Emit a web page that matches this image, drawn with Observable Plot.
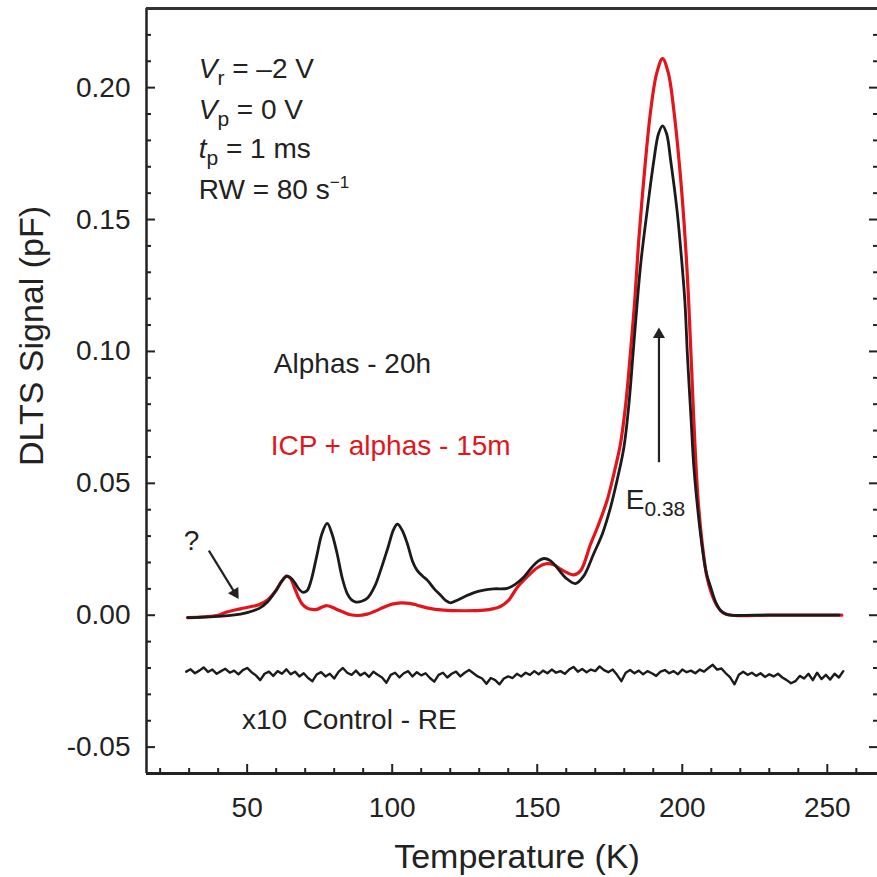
<!DOCTYPE html>
<html><head><meta charset="utf-8">
<script src="https://cdn.jsdelivr.net/npm/d3@7"></script>
<script src="https://cdn.jsdelivr.net/npm/@observablehq/plot@0.6"></script>
<style>
html,body{margin:0;padding:0;background:#fff;overflow:hidden}
#chart{width:877px;height:877px}
</style></head><body><div id="chart"></div>
<script>
// ---- data ----
const tempAlphas = [29.5,35,40,45,50,54,57,60,62,63.6,65,66.5,68,69.3,70.7,72,74,75.8,77.6,79.2,81,82.8,84.5,86,87.5,89.5,91.5,94,96,98.5,100.5,101.8,103.3,105.2,107,108.6,110.5,112.1,114.5,116.7,118.5,120.1,122,124.7,128,131.6,135,139.7,142.5,145.4,148,150.3,152.3,154.5,157,160,163.2,166,169.5,172.5,175.3,177.7,179.9,181.6,183.1,184.5,185.8,187.9,190.2,191.8,193.2,194.6,196.0,198.2,199.8,200.9,201.8,203,204,205.3,206.6,208.2,209.8,211.5,213.2,215,216.7,225,240,254];
const sigAlphas  = [-0.0009,-0.0007,-0.0004,0.0,0.001,0.0025,0.005,0.0095,0.013,0.0148,0.0142,0.0122,0.0097,0.0087,0.0094,0.013,0.0225,0.031,0.0348,0.031,0.0234,0.014,0.0082,0.0058,0.005,0.0053,0.0065,0.011,0.017,0.0255,0.0325,0.0345,0.0325,0.0272,0.0205,0.017,0.0148,0.0133,0.01,0.0076,0.0055,0.0047,0.0055,0.0069,0.0085,0.0095,0.01,0.0102,0.0118,0.0145,0.018,0.0205,0.0215,0.0207,0.0178,0.014,0.012,0.0148,0.0234,0.031,0.041,0.052,0.0638,0.08,0.1,0.119,0.1345,0.1534,0.1724,0.1825,0.1855,0.1825,0.1724,0.1534,0.1345,0.119,0.098,0.075,0.056,0.0405,0.028,0.0165,0.0106,0.005,0.0018,0.0005,0.0,0.0,0.0,0.0];

const tempICP = [29.5,35,40,43,45.4,48,51.1,54,57,60,62,63.6,65,66.3,67.5,69,70.7,72.5,74.1,76,77.6,79.3,81,83.5,85.6,88,91.4,94,97.1,100,102.9,106,108.6,112,117.8,125,131.6,135,137.3,140,143.1,146.5,150,153,155.5,158,160.5,162.6,165,168.4,171,174.1,176.5,178.7,180.5,182.2,183.6,184.9,186.8,189.1,191.2,193.2,195.2,197.1,199.4,201.1,202.2,203.2,204.3,205.5,207,208.5,210,212,214,217,230,245,255];
const sigICP  = [-0.0009,-0.0006,0.0,0.0012,0.0019,0.0025,0.0032,0.004,0.0058,0.0095,0.013,0.0148,0.0138,0.0105,0.0072,0.0042,0.0027,0.0022,0.0022,0.0032,0.0036,0.003,0.0022,0.001,0.0002,-0.0001,0.0004,0.0015,0.003,0.0042,0.0047,0.0045,0.0038,0.0028,0.0019,0.0017,0.0019,0.0025,0.0033,0.0055,0.0105,0.0145,0.018,0.0195,0.0192,0.0175,0.016,0.0153,0.017,0.027,0.034,0.0436,0.054,0.065,0.08,0.1004,0.119,0.1408,0.166,0.1913,0.2055,0.211,0.2055,0.1913,0.166,0.1408,0.119,0.094,0.066,0.043,0.026,0.0145,0.0085,0.0035,0.001,0.0,0.0,0.0,0.0];

const tempControl = [29,30.5,32,33.5,35,36.5,38,39.5,41,42.5,44,45.5,47,48.5,50,51.5,53,54.5,56,57.5,59,60.5,62,63.5,65,66.5,68,69.5,71,72.5,74,75.5,77,78.5,80,81.5,83,84.5,86,87.5,89,90.5,92,93.5,95,96.5,98,99.5,101,102.5,104,105.5,107,108.5,110,111.5,113,114.5,116,117.5,119,120.5,122,123.5,125,126.5,128,129.5,131,132.5,134,135.5,137,138.5,140,141.5,143,144.5,146,147.5,149,150.5,152,153.5,155,156.5,158,159.5,161,162.5,164,165.5,167,168.5,170,171.5,173,174.5,176,177.5,179,180.5,182,183.5,185,186.5,188,189.5,191,192.5,194,195.5,197,198.5,200,201.5,203,204.5,206,207.5,209,210.5,212,213.5,215,216.5,218,219.5,221,222.5,224,225.5,227,228.5,230,231.5,233,234.5,236,237.5,239,240.5,242,243.5,245,246.5,248,249.5,251,252.5,254,255.5];
const sigControl  = [-0.0214,-0.0205,-0.0220,-0.0210,-0.0198,-0.0215,-0.0206,-0.0222,-0.0212,-0.0203,-0.0218,-0.0210,-0.0224,-0.0208,-0.0200,-0.0216,-0.0228,-0.0246,-0.0222,-0.0214,-0.0230,-0.0212,-0.0222,-0.0205,-0.0224,-0.0214,-0.0232,-0.0220,-0.0238,-0.0250,-0.0224,-0.0216,-0.0232,-0.0222,-0.0240,-0.0215,-0.0200,-0.0218,-0.0226,-0.0210,-0.0228,-0.0218,-0.0234,-0.0214,-0.0226,-0.0236,-0.0256,-0.0226,-0.0218,-0.0236,-0.0220,-0.0212,-0.0232,-0.0216,-0.0228,-0.0220,-0.0238,-0.0252,-0.0226,-0.0218,-0.0236,-0.0222,-0.0214,-0.0232,-0.0218,-0.0208,-0.0220,-0.0232,-0.0240,-0.0260,-0.0238,-0.0246,-0.0262,-0.0240,-0.0232,-0.0238,-0.0222,-0.0232,-0.0218,-0.0226,-0.0212,-0.0224,-0.0210,-0.0220,-0.0206,-0.0218,-0.0212,-0.0222,-0.0206,-0.0196,-0.0214,-0.0204,-0.0216,-0.0206,-0.0212,-0.0194,-0.0208,-0.0216,-0.0206,-0.0226,-0.0250,-0.0218,-0.0208,-0.0220,-0.0210,-0.0224,-0.0212,-0.0220,-0.0230,-0.0214,-0.0208,-0.0220,-0.0212,-0.0224,-0.0206,-0.0216,-0.0210,-0.0220,-0.0206,-0.0214,-0.0200,-0.0188,-0.0206,-0.0202,-0.0220,-0.0236,-0.0262,-0.0226,-0.0214,-0.0226,-0.0218,-0.0230,-0.0220,-0.0234,-0.0224,-0.0232,-0.0222,-0.0236,-0.0246,-0.0258,-0.0250,-0.0230,-0.0240,-0.0222,-0.0246,-0.0218,-0.0242,-0.0226,-0.0244,-0.0222,-0.0236,-0.0212];

const xMajorTicks = [50,100,150,200,250];
const xMinorTicks = [20,30,40,60,70,80,90,110,120,130,140,160,170,180,190,210,220,230,240,260];
const yMajorTicks = [-0.05,0,0.05,0.10,0.15,0.20];
const yMinorTicks = [-0.04,-0.03,-0.02,-0.01,0.01,0.02,0.03,0.04,0.06,0.07,0.08,0.09,0.11,0.12,0.13,0.14,0.16,0.17,0.18,0.19,0.21,0.22];

const xTitle = "Temperature (K)";
const yTitle = "DLTS Signal (pF)";

// annotations (text in data coordinates)
const annotations = [
  {t:33.3, v:0.2071, text:"Vr = –2 V", color:"#222"},
  {t:33.3, v:0.1916, text:"Vp = 0 V", color:"#222"},
  {t:33.3, v:0.1768, text:"tp = 1 ms", color:"#222"},
  {t:33.3, v:0.1611, text:"RW = 80 s-1", color:"#222"},
  {t:59.2, v:0.0953, text:"Alphas - 20h", color:"#222"},
  {t:58.1, v:0.0643, text:"ICP + alphas - 15m", color:"#e3151b"},
  {t:48.2, v:-0.0399, text:"x10\u00a0 Control - RE", color:"#222"},
  {t:180.5, v:0.0435, text:"E0.38", color:"#222"}
];
const qMark = [{t:30.8, v:0.028, text:"?"}];
const arrows = [
  {x1:36.8, y1:0.0245, x2:45.8, y2:0.0084, rot:148},
  {x1:191.96, y1:0.058, x2:191.96, y2:0.1064, rot:0}
];

const rich = {
  "Vr = –2 V": [["V","i"],["r","sub"],[" = –2 V",""]],
  "Vp = 0 V": [["V","i"],["p","sub"],[" = 0 V",""]],
  "tp = 1 ms": [["t","i"],["p","sub"],[" = 1 ms",""]],
  "RW = 80 s-1": [["RW = 80 s",""],["−1","sup"]],
  "E0.38": [["E",""],["0.38","sub"]]
};

const black = "#1b1b1b", red = "#e3151b", ink = "#222";
const alphas = tempAlphas.map((t,i)=>({t, v:sigAlphas[i]}));
const icp = tempICP.map((t,i)=>({t, v:sigICP[i]}));
const control = tempControl.map((t,i)=>({t, v:sigControl[i]}));

const plot = Plot.plot({
  width: 877, height: 877,
  marginLeft: 146, marginRight: 0, marginTop: 8, marginBottom: 104,
  style: {fontFamily: "'Liberation Sans', Arial, Helvetica, sans-serif", fontSize: "28px", color: ink, background: "#fff", overflow: "visible"},
  x: {domain: [15.3, 267.3]},
  y: {domain: [-0.06, 0.23]},
  marks: [
    Plot.axisX({ticks: xMajorTicks, tickSize: -9, tickPadding: 33, tickFormat: d => String(d), label: null, strokeWidth: 2, fontSize: 28}),
    Plot.axisX({ticks: xMinorTicks, tickSize: -5, tickFormat: () => "", label: null, strokeWidth: 2}),
    Plot.axisY({ticks: yMajorTicks, tickSize: -9, tickPadding: 25, tickFormat: d => d.toFixed(2), label: null, strokeWidth: 2, fontSize: 28}),
    Plot.axisY({ticks: yMinorTicks, tickSize: -5, tickFormat: () => "", label: null, strokeWidth: 2}),
    Plot.axisY({anchor: "right", ticks: yMajorTicks, tickSize: -9, tickFormat: () => "", label: null, strokeWidth: 2}),
    Plot.axisY({anchor: "right", ticks: yMinorTicks, tickSize: -5, tickFormat: () => "", label: null, strokeWidth: 2}),
    Plot.ruleX([15.3], {stroke: ink, strokeWidth: 2.5}),
    Plot.ruleY([-0.06], {stroke: ink, strokeWidth: 3}),
    Plot.ruleY([0.23], {stroke: "#333", strokeWidth: 3}),
    Plot.line(control, {x: "t", y: "v", stroke: black, strokeWidth: 2.4}),
    Plot.line(icp, {x: "t", y: "v", stroke: red, strokeWidth: 3.2, curve: "catmull-rom"}),
    Plot.line(alphas, {x: "t", y: "v", stroke: black, strokeWidth: 2.8, curve: "catmull-rom"}),
    Plot.link(arrows, {x1: "x1", y1: "y1", x2: "x2", y2: "y2", stroke: ink, strokeWidth: 2.2}),
    Plot.dot(arrows, {x: "x2", y: "y2", symbol: "triangle", r: 4.5, fill: ink, stroke: "none", rotate: "rot"}),
    Plot.text(annotations, {x: "t", y: "v", text: "text", fill: "color", textAnchor: "start", fontSize: 28}),
    Plot.text(qMark, {x: "t", y: "v", text: "text", fill: ink, fontSize: 28}),
    Plot.text([xTitle], {frameAnchor: "bottom", textAnchor: "middle", lineAnchor: "middle", dx: 5, dy: 84, fontSize: 34, fill: ink}),
    Plot.text([yTitle], {frameAnchor: "left", textAnchor: "middle", lineAnchor: "middle", dx: -114, dy: -55, rotate: -90, fontSize: 34, fill: ink})
  ]
});

// rich text: italics, subscripts, superscripts
const ns = "http://www.w3.org/2000/svg";
plot.querySelectorAll("text").forEach(t => {
  const r = rich[t.textContent];
  if (!r) return;
  t.textContent = "";
  let shift = 0;
  r.forEach(([s, k]) => {
    const ts = document.createElementNS(ns, "tspan");
    ts.textContent = s;
    let target = 0;
    if (k === "i") ts.setAttribute("font-style", "italic");
    if (k === "sub") { ts.setAttribute("font-size", "21"); target = 7; }
    if (k === "sup") { ts.setAttribute("font-size", "17"); target = -11; }
    if (target - shift !== 0) ts.setAttribute("dy", target - shift);
    shift = target;
    t.appendChild(ts);
  });
});

document.getElementById("chart").appendChild(plot);
</script>
</body></html>
